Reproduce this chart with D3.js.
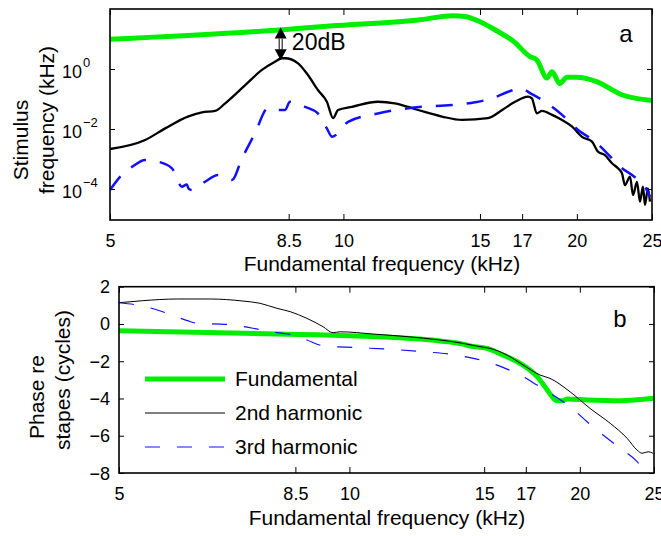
<!DOCTYPE html>
<html>
<head>
<meta charset="utf-8">
<script src="https://cdn.jsdelivr.net/npm/d3@7"></script>
<style>
  body { margin: 0; background: #fff; }
  svg { display: block; font-family: "Liberation Sans", Arial, Helvetica, sans-serif; }
</style>
</head>
<body>
<div id="chart"></div>
<script>
// x ticks shared by both panels (kHz)
const freqTicks = [5, 8.5, 10, 15, 17, 20, 25];
const ampTicks = [1e-4, 1e-2, 1];
const ampTickExp = ['\u22124', '\u22122', '0'];
const phaseTicks = [-8, -6, -4, -2, 0, 2];
const seriesNames = ['Fundamental', '2nd harmonic', '3rd harmonic'];

// panel a: amplitude
const fundAmpF = [5.0, 8.28, 9.61, 12.48, 13.85, 14.35, 15.0, 15.78, 16.55, 17.4, 17.76, 18.3, 18.58, 19.0, 19.43, 20.0, 21.2, 22.9, 25.0];
const fundAmp = [9.8, 20, 27, 43, 60, 56, 37.7, 18.5, 8.6, 2.6, 2.0, 0.5, 0.81, 0.33, 0.53, 0.53, 0.38, 0.136, 0.089];

const h2AmpF = [5.0, 5.55, 5.89, 6.30, 6.57, 6.83, 7.04, 7.47, 7.85, 8.16, 8.33, 8.41, 8.74, 9.00, 9.27, 9.52, 9.70, 9.84, 10.26, 11.08, 11.65, 12.48, 13.40, 14.22, 15.36, 16.02, 16.65, 17.30, 17.50, 17.76, 18.03, 18.58, 19.14, 19.72, 20.31, 20.92, 21.30, 21.74, 22.20, 22.60, 22.87, 23.07, 23.42, 23.63, 23.91, 24.12, 24.34, 24.48, 24.70, 24.85];
const h2Amp = [2.15e-3, 4.3e-3, 1.05e-2, 2.6e-2, 3.6e-2, 4.0e-2, 7.2e-2, 0.29, 0.93, 1.75, 2.28, 2.28, 1.55, 0.63, 0.2, 8.1e-2, 2.3e-2, 4.3e-2, 5.5e-2, 8.1e-2, 7.2e-2, 4.3e-2, 2.6e-2, 2.0e-2, 2.3e-2, 4.3e-2, 8.1e-2, 0.12, 0.105, 3.3e-2, 4.0e-2, 2.95e-2, 2.0e-2, 1.2e-2, 5.5e-3, 3.8e-3, 1.74e-3, 1.35e-3, 7.2e-4, 4.9e-4, 3.3e-4, 1.35e-4, 2.6e-4, 6.3e-5, 1.74e-4, 3.8e-5, 1.2e-4, 2.95e-5, 1.05e-4, 3.8e-5];

const h3AmpF = [5.0, 5.18, 5.34, 5.55, 5.77, 6.01, 6.19, 6.28, 6.32, 6.38, 6.63, 6.89, 7.18, 7.40, 7.69, 7.99, 8.12, 8.41, 8.53, 8.92, 9.27, 9.52, 9.67, 10.14, 11.08, 12.26, 13.80, 14.78, 15.55, 16.31, 16.90, 17.50, 18.19, 19.14, 20.07, 21.11, 22.20, 22.87, 23.56, 23.98, 24.48, 24.85];
const h3Amp = [9.3e-5, 2.95e-4, 5.5e-4, 9.3e-4, 8.1e-4, 4.9e-4, 1.2e-4, 1.4e-4, 1.0e-4, 9.3e-5, 1.74e-4, 2.95e-4, 2.0e-4, 1.05e-3, 7.2e-3, 4.9e-2, 4.3e-2, 4.3e-2, 8.1e-2, 5.5e-2, 3.3e-2, 1.05e-2, 5.5e-3, 1.74e-2, 3.3e-2, 5.1e-2, 6.3e-2, 7.8e-2, 0.105, 0.174, 0.23, 0.145, 8.1e-2, 2.95e-2, 9.3e-3, 3.8e-3, 1.05e-3, 4.9e-4, 2.95e-4, 2.0e-4, 1.2e-4, 5.5e-5];

// panel b: phase re stapes (cycles)
const fundPhF = [5.0, 8.62, 10.23, 11.89, 13.13, 14.07, 14.37, 15.13, 15.87, 16.71, 17.59, 18.01, 18.40, 18.67, 18.96, 19.25, 20.44, 22.58, 25.0];
const fundPh = [-0.36, -0.56, -0.65, -0.77, -0.91, -1.08, -1.18, -1.31, -1.67, -2.11, -2.83, -3.37, -3.9, -4.12, -4.12, -4.03, -4.08, -4.12, -3.99];

const h2PhF = [5.0, 5.37, 5.95, 6.58, 7.26, 7.64, 8.04, 8.37, 8.80, 9.24, 9.52, 9.72, 10.74, 11.89, 13.13, 14.07, 14.81, 15.26, 16.07, 16.86, 17.74, 18.28, 19.42, 20.62, 21.91, 23.06, 23.76, 24.12, 24.56, 24.93];
const h2Ph = [1.14, 1.25, 1.34, 1.34, 1.23, 1.11, 0.84, 0.66, 0.30, -0.15, -0.47, -0.42, -0.54, -0.68, -0.86, -1.04, -1.22, -1.31, -1.67, -2.2, -2.74, -2.92, -3.64, -4.53, -5.33, -6.14, -6.77, -6.94, -6.86, -6.94];

const h3PhF = [5.0, 5.37, 5.78, 6.14, 6.32, 6.92, 7.48, 8.04, 8.44, 8.80, 9.24, 10.23, 11.30, 12.48, 13.82, 14.37, 14.81, 15.13, 15.87, 16.71, 17.59, 18.45, 19.42, 20.44, 21.45, 22.58, 23.76, 24.34];
const h3Ph = [1.14, 0.96, 0.57, 0.18, 0.04, -0.02, -0.23, -0.47, -0.59, -0.86, -1.17, -1.27, -1.36, -1.49, -1.67, -1.81, -1.93, -2.03, -2.33, -2.74, -3.28, -3.81, -4.44, -5.25, -5.96, -6.67, -7.39, -7.92];

const width = 661, height = 536;
const green = '#00ee00', blue = '#1010ff';

const svg = d3.select('#chart').append('svg')
  .attr('width', width).attr('height', height);

const zip = (fs, vs) => fs.map((f, i) => [f, vs[i]]);

// panel geometry
const A = { left: 110, right: 652, top: 9, bottom: 220 };
const B = { left: 119, right: 654, top: 286.7, bottom: 473 };

const xA = d3.scaleLog().domain([5, 25]).range([A.left, A.right]);
const yA = d3.scaleLog().domain([Math.pow(10, -5.033), 100]).range([A.bottom, A.top]);
const xB = d3.scaleLog().domain([5, 25]).range([B.left, B.right]);
const yB = d3.scaleLinear().domain([-8, 2]).range([B.bottom, B.top]);

function frame(P, x, y, yTicks, id) {
  svg.append('clipPath').attr('id', id)
    .append('rect')
    .attr('x', P.left).attr('y', P.top)
    .attr('width', P.right - P.left).attr('height', P.bottom - P.top);

  const clean = (g) => {
    g.select('.domain').remove();
    g.selectAll('line').attr('stroke', '#000').attr('stroke-width', 1);
  };
  svg.append('g').attr('transform', `translate(0,${P.bottom})`)
    .call(d3.axisBottom(x).tickValues(freqTicks).tickSize(-6).tickSizeOuter(0).tickPadding(14).tickFormat(d3.format('')))
    .call(clean)
    .selectAll('text').attr('font-size', '18px').attr('fill', '#000')
    .attr('font-family', '"Liberation Sans", Arial, sans-serif');
  svg.append('g').attr('transform', `translate(0,${P.top})`)
    .call(d3.axisTop(x).tickValues(freqTicks).tickSize(-6).tickSizeOuter(0).tickFormat(''))
    .call(clean);
  svg.append('g').attr('transform', `translate(${P.left},0)`)
    .call(d3.axisLeft(y).tickValues(yTicks).tickSize(-5).tickSizeOuter(0).tickFormat(''))
    .call(clean);
  svg.append('g').attr('transform', `translate(${P.right},0)`)
    .call(d3.axisRight(y).tickValues(yTicks).tickSize(-5).tickSizeOuter(0).tickFormat(''))
    .call(clean);
}

function box(P) {
  svg.append('rect')
    .attr('x', P.left).attr('y', P.top)
    .attr('width', P.right - P.left).attr('height', P.bottom - P.top)
    .attr('fill', 'none').attr('stroke', '#000').attr('stroke-width', 1.6);
}

function series(x, y, clip, pts, color, w, dash) {
  const line = d3.line().x((d) => x(d[0])).y((d) => y(d[1])).curve(d3.curveMonotoneX);
  svg.append('path')
    .attr('clip-path', `url(#${clip})`)
    .attr('d', line(pts))
    .attr('fill', 'none')
    .attr('stroke', color)
    .attr('stroke-width', w)
    .attr('stroke-linejoin', 'round')
    .attr('stroke-dasharray', dash || null);
}

// ---- panel a ----
frame(A, xA, yA, ampTicks, 'clipA');
series(xA, yA, 'clipA', zip(fundAmpF, fundAmp), green, 5);
series(xA, yA, 'clipA', zip(h2AmpF, h2Amp), '#000', 2.3);
series(xA, yA, 'clipA', zip(h3AmpF, h3Amp), blue, 2.5, '17,14');
box(A);

// log tick labels with superscripts
ampTicks.forEach((t, i) => {
  const tx = svg.append('text')
    .attr('x', 62).attr('y', yA(t) + 9)
    .attr('font-size', '18px');
  tx.append('tspan').text('10');
  tx.append('tspan').attr('dy', -11).attr('dx', 1).attr('font-size', '13px').text(ampTickExp[i]);
});

// 20 dB arrow
const ax = xA(8.3), ay1 = yA(24), ay2 = yA(1.95);
const head = 11, hw = 6;
svg.append('line').attr('x1', ax - 1.5).attr('x2', ax - 1.5).attr('y1', ay1 + head).attr('y2', ay2 - head)
  .attr('stroke', '#000').attr('stroke-width', 1);
svg.append('line').attr('x1', ax + 1.5).attr('x2', ax + 1.5).attr('y1', ay1 + head).attr('y2', ay2 - head)
  .attr('stroke', '#000').attr('stroke-width', 1);
svg.append('path')
  .attr('d', `M${ax},${ay1} L${ax - hw},${ay1 + head} L${ax + hw},${ay1 + head} Z M${ax},${ay2} L${ax - hw},${ay2 - head} L${ax + hw},${ay2 - head} Z`)
  .attr('fill', '#000');
svg.append('text')
  .attr('x', xA(8.58)).attr('y', yA(4.3))
  .attr('font-size', '23px').text('20dB');

svg.append('text').attr('x', A.right - 26).attr('y', A.top + 33)
  .attr('text-anchor', 'middle').attr('font-size', '24px').text('a');

svg.append('text').attr('x', 382).attr('y', 271)
  .attr('text-anchor', 'middle').attr('font-size', '21px').text('Fundamental frequency (kHz)');
svg.append('text').attr('transform', 'translate(21,140) rotate(-90)')
  .attr('text-anchor', 'middle').attr('dy', '0.35em').attr('font-size', '21px').text('Stimulus');
svg.append('text').attr('transform', 'translate(47,120) rotate(-90)')
  .attr('text-anchor', 'middle').attr('dy', '0.35em').attr('font-size', '21px').text('frequency (kHz)');

// ---- panel b ----
frame(B, xB, yB, phaseTicks, 'clipB');
series(xB, yB, 'clipB', zip(fundPhF, fundPh), green, 5);
series(xB, yB, 'clipB', zip(h2PhF, h2Ph), '#000', 1);
series(xB, yB, 'clipB', zip(h3PhF, h3Ph), blue, 1.2, '15,17');
box(B);

phaseTicks.forEach((t) => {
  svg.append('text')
    .attr('x', B.left - 9).attr('y', yB(t) + 6.5)
    .attr('text-anchor', 'end').attr('font-size', '18px')
    .text(t < 0 ? '\u2212' + Math.abs(t) : String(t));
});

svg.append('text').attr('x', B.right - 34).attr('y', B.top + 40)
  .attr('text-anchor', 'middle').attr('font-size', '24px').text('b');

svg.append('text').attr('x', 387).attr('y', 525)
  .attr('text-anchor', 'middle').attr('font-size', '21px').text('Fundamental frequency (kHz)');
svg.append('text').attr('transform', 'translate(37,397) rotate(-90)')
  .attr('text-anchor', 'middle').attr('dy', '0.35em').attr('font-size', '21px').text('Phase re');
svg.append('text').attr('transform', 'translate(63,380) rotate(-90)')
  .attr('text-anchor', 'middle').attr('dy', '0.35em').attr('font-size', '21px').text('stapes (cycles)');

// legend
const legStyle = [
  { color: green, w: 5, dash: null },
  { color: '#000', w: 1, dash: null },
  { color: blue, w: 1.2, dash: '15,17' },
];
seriesNames.forEach((name, i) => {
  const ly = 379 + i * 34;
  svg.append('line')
    .attr('x1', B.left + 26).attr('x2', B.left + 106)
    .attr('y1', ly).attr('y2', ly)
    .attr('stroke', legStyle[i].color).attr('stroke-width', legStyle[i].w)
    .attr('stroke-dasharray', legStyle[i].dash);
  svg.append('text').attr('x', B.left + 116).attr('y', ly + 7)
    .attr('font-size', '21px').text(name);
});
</script>
</body>
</html>
